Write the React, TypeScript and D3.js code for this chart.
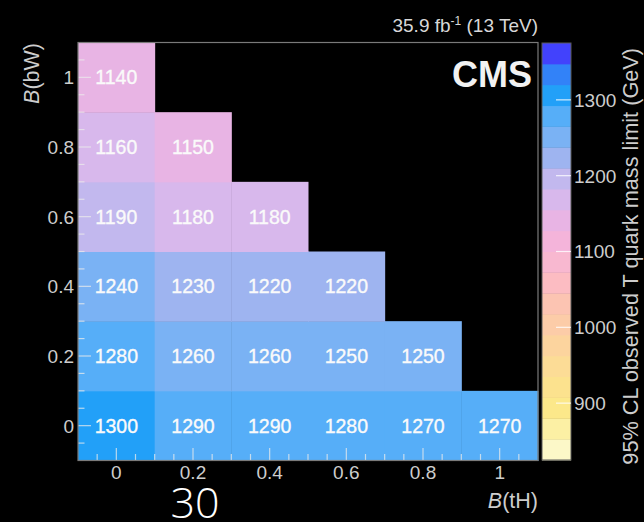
import React from "react";
import * as d3 from "d3";

// ---- data ----
const bTHValues = [0, 0.2, 0.4, 0.6, 0.8, 1];
const bBWValues = [0, 0.2, 0.4, 0.6, 0.8, 1];
// limits per B(bW) row, listed along B(tH)
const limitsBW0 = [1300, 1290, 1290, 1280, 1270, 1270];
const limitsBW02 = [1280, 1260, 1260, 1250, 1250];
const limitsBW04 = [1240, 1230, 1220, 1220];
const limitsBW06 = [1190, 1180, 1180];
const limitsBW08 = [1160, 1150];
const limitsBW1 = [1140];
const limitRows = [limitsBW0, limitsBW02, limitsBW04, limitsBW06, limitsBW08, limitsBW1];

const axisTicks = [0, 0.2, 0.4, 0.6, 0.8, 1];
const axisTickLabels = ["0", "0.2", "0.4", "0.6", "0.8", "1"];
const zTicks = [900, 1000, 1100, 1200, 1300];
const zDomain = [825, 1375];
// palette, low -> high
const palette = [
  "#fcf8c8", "#fcf0a4", "#fce88a", "#fce28e", "#fcdc96",
  "#fcd49e", "#fccca8", "#fcc4b2", "#fcbcc2", "#f8b8d0",
  "#f4b4da", "#e8b4e4", "#d8b8ec", "#c2b8ee", "#9eb4f0",
  "#7ab2f4", "#56aef8", "#22a0f8", "#3282f8", "#4242fc",
];

const FONT = "'Liberation Sans', Arial, Helvetica, sans-serif";

export default function App() {
  const W = 644, H = 522;
  const x = d3.scaleLinear().domain([-0.1, 1.1]).range([78, 538]);
  const y = d3.scaleLinear().domain([-0.1, 1.1]).range([460.5, 42.5]);
  const z = d3.scaleLinear().domain(zDomain).range([460, 43]);
  const color = d3.scaleQuantize<string>().domain(zDomain).range(palette);
  const nb = palette.length;
  const step = (zDomain[1] - zDomain[0]) / nb;

  const cells: { bt: number; bw: number; v: number }[] = [];
  limitRows.forEach((row, i) => {
    row.forEach((v, j) => cells.push({ bt: bTHValues[j], bw: bBWValues[i], v }));
  });

  const minor: number[] = [];
  for (let k = -1; k <= 21; k++) if (k % 4 !== 0) minor.push(k * 0.05);

  const tickCol = "rgba(235,235,235,0.75)";
  const labelCol = "#cdcdcd";

  return (
    <svg width={W} height={H} style={{ position: "absolute", left: 0, top: 0, display: "block", background: "#000" }}>
      <rect x={0} y={0} width={W} height={H} fill="#000" />
      {/* cells */}
      {cells.map((c, i) => (
        <rect key={"c" + i}
          x={x(c.bt - 0.1)} y={y(c.bw + 0.1)}
          width={x(c.bt + 0.1) - x(c.bt - 0.1) + 0.5}
          height={y(c.bw - 0.1) - y(c.bw + 0.1) + 0.5}
          fill={color(c.v)} />
      ))}
      {cells.map((c, i) => (
        <text key={"t" + i} x={x(c.bt)} y={y(c.bw)} dy="0.36em" textAnchor="middle"
          fill="#fafafa" stroke="#fafafa" strokeWidth={0.35} fontFamily={FONT} fontSize={19.5}>{c.v}</text>
      ))}
      {/* ticks */}
      {axisTicks.map((t, i) => (
        <g key={"mt" + i}>
          <line x1={x(t)} x2={x(t)} y1={460.5} y2={448} stroke={tickCol} strokeWidth={1.2} />
          <line x1={78} x2={91} y1={y(t)} y2={y(t)} stroke={tickCol} strokeWidth={1.2} />
        </g>
      ))}
      {minor.map((t, i) => (
        <g key={"mn" + i}>
          <line x1={x(t)} x2={x(t)} y1={460.5} y2={454} stroke={tickCol} strokeWidth={1.2} />
          <line x1={78} x2={84.5} y1={y(t)} y2={y(t)} stroke={tickCol} strokeWidth={1.2} />
        </g>
      ))}
      {/* frame */}
      <rect x={78} y={42.5} width={460} height={418} fill="none" stroke="#7a7a7a" strokeWidth={1.2} />
      {/* tick labels */}
      {axisTicks.map((t, i) => (
        <text key={"xl" + i} x={x(t)} y={479} textAnchor="middle" fill={labelCol}
          fontFamily={FONT} fontSize={19}>{axisTickLabels[i]}</text>
      ))}
      {axisTicks.map((t, i) => (
        <text key={"yl" + i} x={74} y={y(t)} dy="0.36em" textAnchor="end" fill={labelCol}
          fontFamily={FONT} fontSize={19}>{axisTickLabels[i]}</text>
      ))}
      {/* axis titles */}
      <text x={538} y={508} textAnchor="end" fill={labelCol} fontFamily={FONT} fontSize={21.5}>
        <tspan fontStyle="italic">B</tspan>(tH)
      </text>
      <text transform="translate(39,43) rotate(-90)" textAnchor="end" fill={labelCol} fontFamily={FONT} fontSize={21.5}>
        <tspan fontStyle="italic">B</tspan>(bW)
      </text>
      {/* colour bar */}
      {palette.map((c, i) => {
        const v0 = zDomain[0] + i * step;
        return (
          <rect key={"p" + i} x={542} y={z(v0 + step)} width={29}
            height={z(v0) - z(v0 + step) + 0.5} fill={c} />
        );
      })}
      <rect x={542} y={43} width={29} height={417} fill="none" stroke="#5a5a5a" strokeWidth={1} />
      {zTicks.map((t, i) => (
        <g key={"zt" + i}>
          <line x1={556} x2={571} y1={z(t)} y2={z(t)} stroke="rgba(255,255,255,0.8)" strokeWidth={1.2} />
          <text x={574} y={z(t)} dy="0.36em" fill={labelCol} fontFamily={FONT} fontSize={19}>{t}</text>
        </g>
      ))}
      <text transform="translate(638,48) rotate(-90)" textAnchor="end" fill={labelCol}
        fontFamily={FONT} fontSize={21.7}>95% CL observed T quark mass limit (GeV)</text>
      {/* labels */}
      <text x={538} y={32} textAnchor="end" fill="#d8d8d8" fontFamily={FONT} fontSize={19}>
        35.9 fb<tspan dy={-7} fontSize={12}>-1</tspan><tspan dy={7}> (13 TeV)</tspan>
      </text>
      <text x={532} y={87} textAnchor="end" fill="#f2f2f2" fontFamily={FONT} fontSize={36} fontWeight="bold">CMS</text>
      <text x={195} y={518} textAnchor="middle" fill="#ffffff" fontFamily="'Open Sans', 'Noto Sans', sans-serif"
        fontWeight={300} fontSize={43}>30</text>
    </svg>
  );
}
